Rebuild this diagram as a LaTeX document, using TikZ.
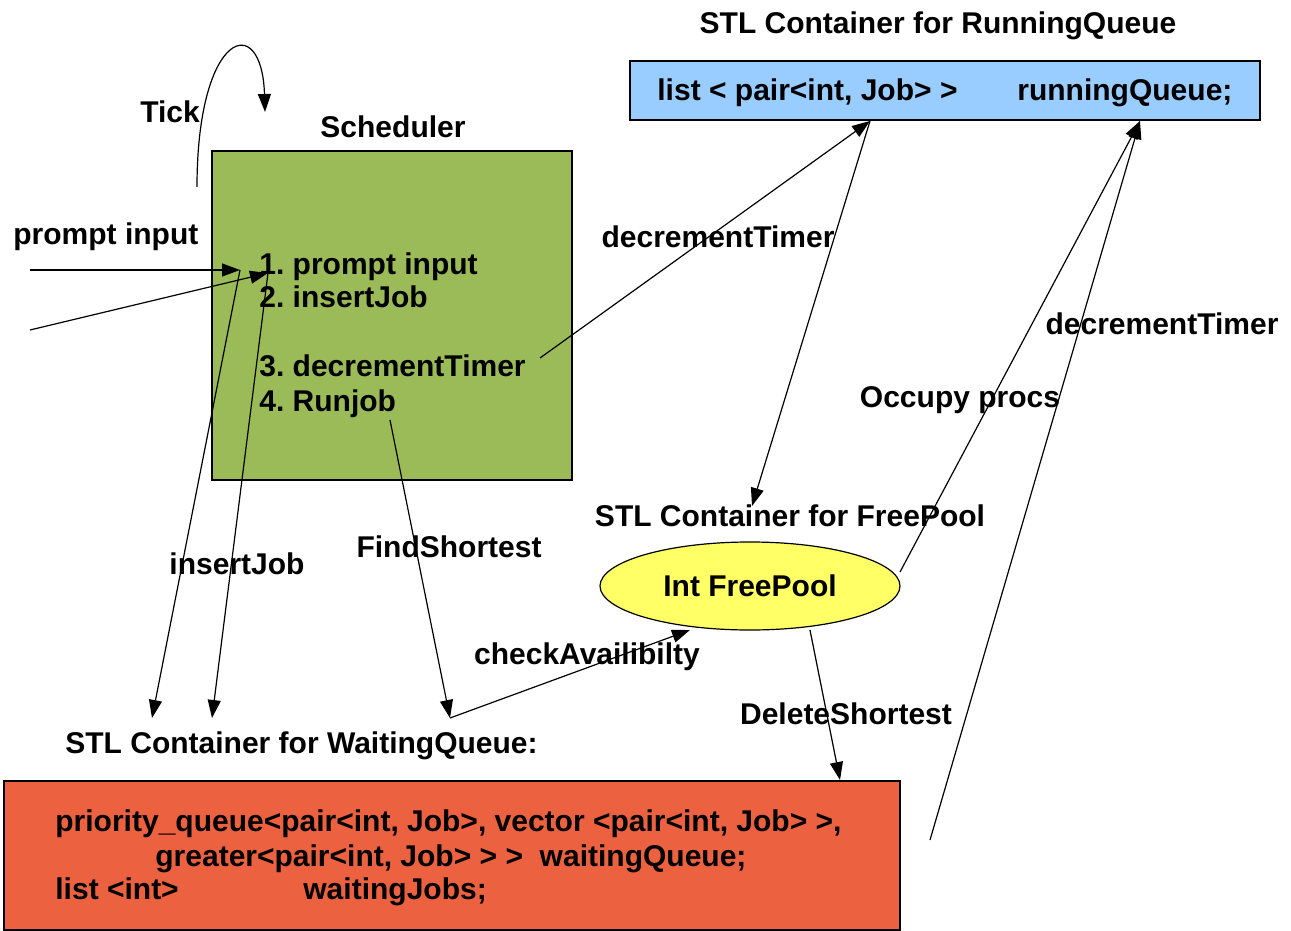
\documentclass[tikz,border=0pt]{standalone}
\usepackage{fontspec}
\setmainfont{Liberation Sans}
\usetikzlibrary{arrows.meta,shapes.geometric}
\definecolor{schedgreen}{RGB}{155,187,89}
\definecolor{runblue}{RGB}{153,204,255}
\definecolor{poolyellow}{RGB}{255,255,102}
\definecolor{waitorange}{RGB}{236,98,64}
\frenchspacing
\begin{document}
\begin{tikzpicture}[x=0.5pt,y=-0.5pt,
  lbl/.style={font=\fontsize{15}{18}\selectfont\bfseries, inner sep=0pt, yshift=-2.5pt, anchor=mid},
  lblw/.style={lbl, anchor=mid west},
  arr/.style={-{Triangle[length=9pt,width=6.5pt]}, line width=0.6pt},
  box/.style={draw, line width=0.6pt, inner sep=0pt}]
\useasboundingbox (0,0) rectangle (1291,931);
\fill[white] (0,0) rectangle (1291,931);

% shapes
\node[box, fill=schedgreen, minimum width=180pt, minimum height=164.5pt] (sched) at (392,315.5) {};
\node[box, fill=runblue, minimum width=315pt, minimum height=29.5pt] (run) at (945,90.5) {};
\node[box, fill=waitorange, minimum width=448pt, minimum height=74.5pt] (wait) at (452,855.5) {};
\node[box, ellipse, fill=poolyellow, minimum width=150pt, minimum height=44pt] (pool) at (750,586) {};

% titles
\node[lbl] (tRun) at (938,23) {STL Container for RunningQueue};
\node[lbl] (tSched) at (393,127) {Scheduler};
\node[lbl] (tPool) at (790,516) {STL Container for FreePool};
\node[lblw] (tWait) at (65,743) {STL Container for WaitingQueue:};

% box contents
\node[lblw] (runA) at (657,90) {list < pair<int, Job> >};
\node[lblw] (runB) at (1017,90) {runningQueue;};
\node[lbl] (poolT) at (750,586) {Int FreePool};
\node[lblw] (s1) at (259,264) {1. prompt input};
\node[lblw] (s2) at (259,297) {2. insertJob};
\node[lblw] (s3) at (259,366) {3. decrementTimer};
\node[lblw] (s4) at (259,401) {4. Runjob};
\node[lblw] (w1) at (55,821) {priority\_queue<pair<int, Job>, vector <pair<int, Job> >,};
\node[lblw] (w2) at (155,856) {greater<pair<int, Job> > >\ \ waitingQueue;};
\node[lblw] (w3) at (55,889) {list <int>};
\node[lblw] (w4) at (303,889) {waitingJobs;};

% labels
\node[lbl] (lTick) at (170,112) {Tick};
\node[lblw] (lPrompt) at (13,234) {prompt input};
\node[lbl] (lInsert) at (237,564) {insertJob};
\node[lbl] (lDec) at (718,237) {decrementTimer};
\node[lbl] (lFind) at (449,547) {FindShortest};
\node[lbl] (lCheck) at (587,654) {checkAvailibilty};
\node[lbl] (lDel) at (846,714) {DeleteShortest};
\node[lbl] (lOcc) at (960,397) {Occupy procs};
\node[lbl] (lDec2) at (1162,324) {decrementTimer};

% connector points
\coordinate (tickS) at (197,187);
\coordinate (tickE) at (265,112);
\coordinate (in1) at (30,270);
\coordinate (in2) at (30,330);
\coordinate (p1) at (240,270);
\coordinate (p2) at (268,273);
\coordinate (q1) at (152,718);
\coordinate (q2) at (212,718);
\coordinate (decS) at (540,358);
\coordinate (rqA) at (870,121);
\coordinate (rqB) at (1140,121);
\coordinate (fpT) at (752,506);
\coordinate (rjS) at (390,420);
\coordinate (wq) at (450,718);
\coordinate (poolIn) at (690,630);
\coordinate (poolOut) at (810,630);
\coordinate (delE) at (840,780);
\coordinate (occS) at (900,572);
\coordinate (dec2S) at (930,840);

% connectors
\draw[arr] (tickS) .. controls (197,30) and (262,10) .. (tickE);
\draw[arr] (in1) -- (p1);
\draw[arr] (in2) -- (p2);
\draw[arr] (p1) -- (q1);
\draw[arr] (p2) -- (q2);
\draw[arr] (decS) -- (rqA);
\draw[arr] (rqA) -- (fpT);
\draw[arr] (rjS) -- (wq);
\draw[arr] (wq) -- (poolIn);
\draw[arr] (poolOut) -- (delE);
\draw[arr] (occS) -- (rqB);
\draw[arr] (dec2S) -- (rqB);
\end{tikzpicture}
\end{document}
